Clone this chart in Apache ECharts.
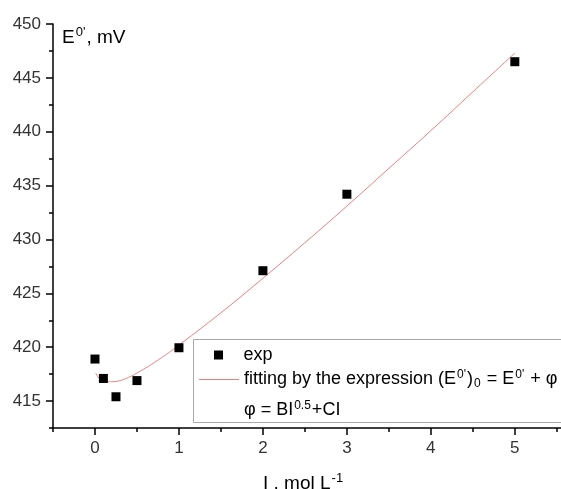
<!DOCTYPE html>
<html><head><meta charset="utf-8">
<script src="https://cdn.jsdelivr.net/npm/echarts@6/dist/echarts.min.js"></script>
<style>html,body{margin:0;padding:0;background:#fff}#c{width:561px;height:489px}</style>
</head><body><div id="c"></div>
<script>
// Experimental points
const expI = [0, 0.1, 0.25, 0.5, 1, 2, 3, 5];
const expE = [418.9, 417.1, 415.4, 416.9, 419.95, 427.1, 434.2, 446.5];
// Fitted curve
const fitI = [0.01, 0.05, 0.1, 0.15, 0.2, 0.3, 0.4, 0.5, 0.75, 1, 1.5, 2, 2.5, 3, 3.5, 4, 4.5, 5];
const fitE = [417.6, 417.1, 416.9, 416.8, 416.8, 416.9, 417.2, 417.6, 418.8, 420.2, 423.2, 426.4, 429.7, 433.1, 436.6, 440.1, 443.7, 447.3];
// Tick labels
const xTicks = [0, 1, 2, 3, 4, 5];
const xMinor = [-0.5, 0.5, 1.5, 2.5, 3.5, 4.5, 5.5];
const yTicks = [415, 420, 425, 430, 435, 440, 445, 450];
const yMinor = [412.5, 417.5, 422.5, 427.5, 432.5, 437.5, 442.5, 447.5];

const FONT = 'Liberation Sans';
const RED = '#ee7f7f';
const chart = echarts.init(document.getElementById('c'), null, {renderer: 'canvas'});
const rich = {
  sup: {fontSize: 12, verticalAlign: 'bottom', padding: [0, 1, 9, 1], fontFamily: FONT, color: '#000'},
  sub: {fontSize: 12, verticalAlign: 'top', padding: [9, 1, 0, 1], fontFamily: FONT, color: '#000'}
};
const richT = {
  sup: {fontSize: 13, verticalAlign: 'bottom', padding: [0, 1, 10, 1], fontFamily: FONT, color: '#000'}
};
const tickStyle = {color: '#000', width: 1.5};
chart.setOption({
  animation: false,
  grid: {left: 53, right: 0, top: 24, bottom: 61},
  xAxis: [
    {type: 'value', min: -0.5, max: 5.55, position: 'bottom',
      axisLine: {show: true, onZero: false, lineStyle: {color: '#000', width: 1.5}}, splitLine: {show: false},
      axisTick: {show: true, length: 7, customValues: xTicks, lineStyle: tickStyle},
      axisLabel: {customValues: xTicks, margin: 12, fontSize: 17, fontFamily: FONT, color: '#333'}},
    {type: 'value', min: -0.5, max: 5.55, position: 'bottom',
      axisLine: {show: false, onZero: false}, splitLine: {show: false},
      axisTick: {show: true, length: 4, customValues: xMinor, lineStyle: tickStyle},
      axisLabel: {show: false}}
  ],
  yAxis: [
    {type: 'value', min: 412.5, max: 450, position: 'left',
      axisLine: {show: true, onZero: false, lineStyle: {color: '#000', width: 1.5}}, splitLine: {show: false},
      axisTick: {show: true, length: 7, customValues: yTicks, lineStyle: tickStyle},
      axisLabel: {customValues: yTicks, margin: 12, fontSize: 17, fontFamily: FONT, color: '#333'}},
    {type: 'value', min: 412.5, max: 450, position: 'left',
      axisLine: {show: false, onZero: false}, splitLine: {show: false},
      axisTick: {show: true, length: 4, customValues: yMinor, lineStyle: tickStyle},
      axisLabel: {show: false}}
  ],
  legend: [
    {data: [{name: 'exp', icon: 'path://M0,0H1V1H0Z'}], left: 209, top: 341, orient: 'vertical',
      itemWidth: 40, itemHeight: 9, textStyle: {fontSize: 18, fontFamily: FONT, color: '#000'}},
    {data: [{name: 'fit', icon: 'path://M0,0H40V1H0Z'}], left: 194, top: 364, orient: 'vertical', itemWidth: 40, itemHeight: 9,
      formatter: () => 'fitting by the expression (E{sup|0\'}){sub|0} = E{sup|0\'} + \u03c6',
      textStyle: {fontSize: 18, fontFamily: FONT, color: '#000', rich: rich}}
  ],
  graphic: [
    {type: 'rect', shape: {x: 193.5, y: 339.5, width: 420, height: 83}, z: 0,
      style: {fill: 'rgba(0,0,0,0)', stroke: '#aaa', lineWidth: 1}},
    {type: 'text', left: 244, top: 400, style: {text: '\u03c6 = BI{sup|0.5}+CI', fontSize: 18, fontFamily: FONT, fill: '#000', rich: rich}},
    {type: 'text', left: 62, top: 26, style: {text: "E{sup|0'}, mV", fontSize: 19, fontFamily: FONT, fill: '#000', rich: richT}},
    {type: 'text', left: 263, top: 472, style: {text: 'I , mol L{sup|-1}', fontSize: 19, fontFamily: FONT, fill: '#000', rich: richT}}
  ],
  series: [
    {name: 'exp', type: 'scatter', symbol: 'rect', symbolSize: 9, itemStyle: {color: '#000', opacity: 1}, z: 3,
      data: expI.map((v, i) => [v, expE[i]])},
    {name: 'fit', type: 'line', smooth: true, symbol: 'none', lineStyle: {color: RED, width: 1}, itemStyle: {color: RED}, z: 2,
      data: fitI.map((v, i) => [v, fitE[i]])}
  ]
});
</script></body></html>
